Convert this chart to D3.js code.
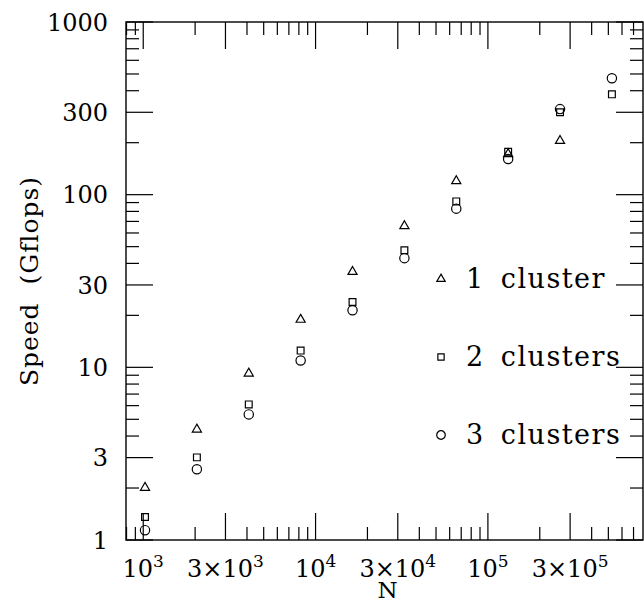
<!DOCTYPE html>
<html>
<head>
<meta charset="utf-8">
<script src="https://cdn.jsdelivr.net/npm/d3@7"></script>
<style>
  body { margin: 0; background: #fff; }
  text { font-family: "DejaVu Serif", serif; fill: #000; }
</style>
</head>
<body>
<div id="chart"></div>
<script>
// matrix size N (powers of two from 1024)
const sizes = [1024, 2048, 4096, 8192, 16384, 32768, 65536, 131072, 262144, 524288];

// speed in Gflops for each cluster count
const oneCluster   = [2.01, 4.37, 9.22, 18.9, 35.8, 65.8, 120, 172, 205, null];
const twoClusters  = [1.36, 3.01, 6.10, 12.5, 23.9, 47.6, 91.4, 177, 300, 381];
const threeClusters = [1.14, 2.57, 5.34, 10.96, 21.4, 42.9, 83, 161, 313, 472];

const seriesNames = ["1 cluster", "2 clusters", "3 clusters"];

// axis tick labels
const xTickValues = [1e3, 3e3, 1e4, 3e4, 1e5, 3e5];
const xTickLabels = [["10", "3"], ["3\u00d710", "3"], ["10", "4"], ["3\u00d710", "4"], ["10", "5"], ["3\u00d710", "5"]];
const yTickValues = [1, 3, 10, 30, 100, 300, 1000];
const yTickLabels = ["1", "3", "10", "30", "100", "300", "1000"];

// set the dimensions and margins of the graph
let margin = {top: 22, right: 1, bottom: 64, left: 126},
    width = 644 - margin.left - margin.right,
    height = 604 - margin.top - margin.bottom;

let svg = d3.select("#chart")
    .append("svg")
    .attr("width", 644)
    .attr("height", 604)
    .append("g")
    .attr("transform", "translate(" + margin.left + "," + margin.top + ")");

let x = d3.scaleLog().domain([Math.pow(10, 2.9), Math.pow(10, 5.9)]).range([0, width]);
let y = d3.scaleLog().domain([1, 1000]).range([height, 0]);

// all 1..9 x 10^k ticks inside a domain
function logTicks(scale) {
    let d = scale.domain(), out = [];
    for (let k = Math.floor(Math.log10(d[0])); k <= Math.ceil(Math.log10(d[1])); k++) {
        for (let m = 1; m <= 9; m++) {
            let v = m * Math.pow(10, k);
            if (v >= d[0] * 0.9999 && v <= d[1] * 1.0001) out.push({v: v, major: m == 1 || m == 3});
        }
    }
    return out;
}

let longTick = 27, shortTick = 13;
let tickColor = "#000";

// x ticks, bottom and top, pointing inward
logTicks(x).forEach(function(t) {
    let len = t.major ? longTick : shortTick;
    svg.append("line").attr("x1", x(t.v)).attr("x2", x(t.v))
        .attr("y1", height).attr("y2", height - len)
        .attr("stroke", tickColor).attr("stroke-width", 1.2);
    svg.append("line").attr("x1", x(t.v)).attr("x2", x(t.v))
        .attr("y1", 0).attr("y2", len)
        .attr("stroke", tickColor).attr("stroke-width", 1.2);
});

// y ticks, left and right
logTicks(y).forEach(function(t) {
    let len = t.major ? longTick : shortTick;
    svg.append("line").attr("x1", 0).attr("x2", len)
        .attr("y1", y(t.v)).attr("y2", y(t.v))
        .attr("stroke", tickColor).attr("stroke-width", 1.2);
    svg.append("line").attr("x1", width).attr("x2", width - len)
        .attr("y1", y(t.v)).attr("y2", y(t.v))
        .attr("stroke", tickColor).attr("stroke-width", 1.2);
});

// frame
svg.append("rect")
    .attr("width", width).attr("height", height)
    .attr("fill", "none").attr("stroke", "#000").attr("stroke-width", 1.4);

// y tick labels
yTickValues.forEach(function(v, i) {
    svg.append("text")
        .attr("x", -18).attr("y", y(v))
        .attr("dy", "0.36em")
        .attr("text-anchor", "end")
        .style("font-size", "24px")
        .text(yTickLabels[i]);
});

// x tick labels with superscript exponent
xTickValues.forEach(function(v, i) {
    let t = svg.append("text")
        .attr("x", x(v)).attr("y", height + 37)
        .attr("text-anchor", "middle")
        .style("font-size", "24px");
    t.append("tspan").text(xTickLabels[i][0]);
    t.append("tspan").attr("dy", -10).style("font-size", "17px").text(xTickLabels[i][1]);
});

// axis titles
svg.append("text")
    .attr("x", width / 2 + 3).attr("y", height + 58)
    .attr("text-anchor", "middle")
    .style("font-size", "23px")
    .text("N");

svg.append("text")
    .attr("transform", "translate(" + (-88) + "," + (height / 2) + ") rotate(-90)")
    .attr("text-anchor", "middle")
    .style("font-size", "25px")
    .style("letter-spacing", "1px")
    .style("white-space", "pre")
    .text("Speed  (Gflops)");

// markers
let symbols = [d3.symbolTriangle, d3.symbolSquare, d3.symbolCircle];
let symbolSizes = [36, 46, 68];
let allSeries = [oneCluster, twoClusters, threeClusters];

allSeries.forEach(function(vals, s) {
    let pts = sizes.map(function(n, i) { return {n: n, v: vals[i]}; })
        .filter(function(d) { return d.v != null; });
    svg.selectAll(".pt" + s)
        .data(pts)
        .enter().append("path")
        .attr("class", "pt" + s)
        .attr("transform", function(d) { return "translate(" + x(d.n) + "," + y(d.v) + ")"; })
        .attr("d", d3.symbol().type(symbols[s]).size(symbolSizes[s]))
        .attr("fill", "none")
        .attr("stroke", "#000")
        .attr("stroke-width", 1.2);
});

// legend
let legend = svg.append("g").attr("transform", "translate(315,266)");
seriesNames.forEach(function(name, i) {
    legend.append("path")
        .attr("transform", "translate(0," + (i * 78 - 9) + ")")
        .attr("d", d3.symbol().type(symbols[i]).size(symbolSizes[i] * 0.85))
        .attr("fill", "none")
        .attr("stroke", "#000")
        .attr("stroke-width", 1.2);
    legend.append("text")
        .attr("x", 25).attr("y", i * 78)
        .style("font-size", "27px")
        .style("letter-spacing", "1.5px")
        .style("word-spacing", "6px")
        .text(name);
});
</script>
</body>
</html>
